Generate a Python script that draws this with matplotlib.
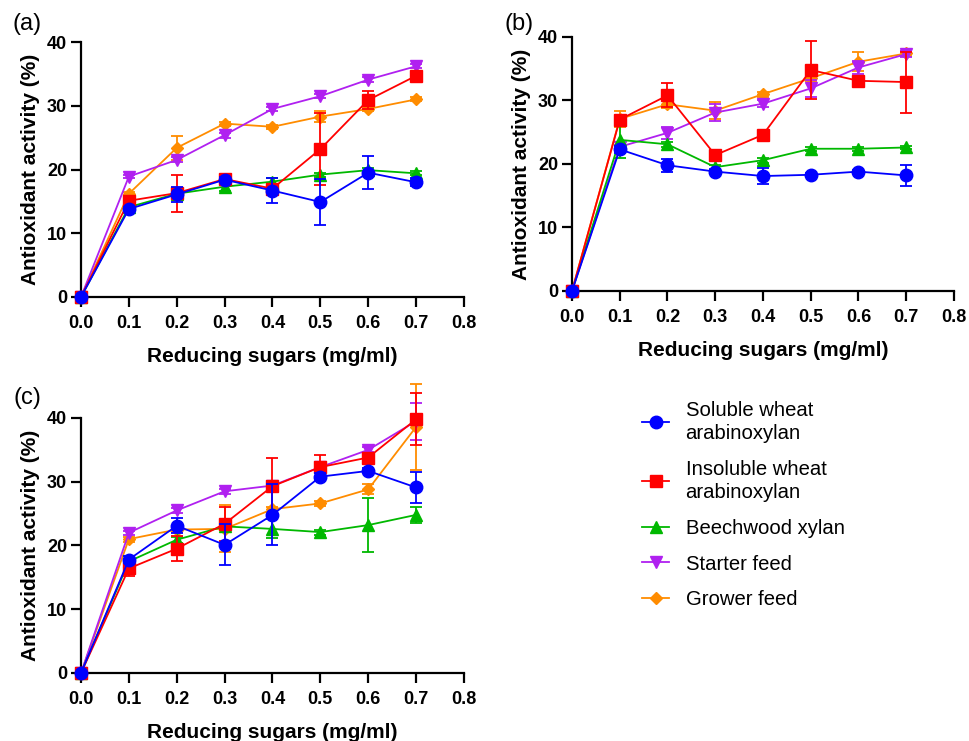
import matplotlib
matplotlib.use('Agg')
import matplotlib.pyplot as plt
from matplotlib.lines import Line2D
import numpy as np

plt.rcParams['font.family'] = ['Liberation Sans', 'DejaVu Sans']

x = [0.0, 0.1, 0.2, 0.3, 0.4, 0.5, 0.6, 0.7]

labels = ['Soluble wheat\narabinoxylan', 'Insoluble wheat\narabinoxylan',
          'Beechwood xylan', 'Starter feed', 'Grower feed']
colors = ['#0000FF', '#FF0000', '#00B800', '#B020F0', '#FF8C00']
markers = ['o', 's', '^', 'v', 'D']
msizes = [9, 9, 8, 8, 6]

# panel (a)
a_mean = [
    [0, 13.8, 16.1, 18.4, 16.7, 14.9, 19.5, 18.0],
    [0, 15.1, 16.3, 18.5, 17.0, 23.2, 30.9, 34.7],
    [0, 14.1, 16.2, 17.3, 18.1, 19.2, 19.9, 19.4],
    [0, 18.9, 21.5, 25.4, 29.5, 31.5, 34.1, 36.2],
    [0, 16.2, 23.4, 27.2, 26.7, 28.3, 29.5, 31.0],
]
a_err = [
    [0, 0.3, 1.2, 0.4, 1.9, 3.6, 2.6, 0.6],
    [0, 0.5, 2.9, 0.4, 0.8, 5.7, 1.4, 0.4],
    [0, 0.3, 0.4, 0.6, 0.5, 0.3, 0.3, 0.3],
    [0, 0.3, 0.4, 0.4, 0.3, 0.3, 0.4, 0.3],
    [0, 0.3, 1.9, 0.3, 0.3, 0.8, 0.3, 0.3],
]

# panel (b)
b_mean = [
    [0, 22.3, 19.8, 18.8, 18.1, 18.3, 18.8, 18.2],
    [0, 27.0, 30.8, 21.4, 24.6, 34.8, 33.1, 32.9],
    [0, 23.8, 23.1, 19.5, 20.6, 22.4, 22.4, 22.6],
    [0, 22.7, 24.9, 28.1, 29.5, 31.9, 35.2, 37.3],
    [0, 27.1, 29.4, 28.4, 31.0, 33.5, 36.1, 37.4],
]
b_err = [
    [0, 0.5, 1.0, 0.4, 1.2, 0.3, 0.3, 1.6],
    [0, 0.6, 1.9, 0.4, 0.4, 4.5, 0.4, 4.8],
    [0, 2.9, 0.4, 0.4, 0.4, 0.3, 0.3, 0.3],
    [0, 0.3, 1.0, 1.4, 0.5, 1.4, 1.0, 0.5],
    [0, 1.3, 0.6, 1.3, 0.4, 0.5, 1.5, 0.4],
]

# panel (c)
c_mean = [
    [0, 17.8, 23.1, 20.1, 24.8, 30.8, 31.7, 29.1],
    [0, 16.4, 19.5, 23.4, 29.3, 32.3, 33.8, 39.8],
    [0, 17.5, 20.9, 23.0, 22.6, 22.1, 23.2, 24.8],
    [0, 22.0, 25.5, 28.5, 29.4, 32.3, 35.0, 39.5],
    [0, 21.0, 22.5, 22.6, 25.7, 26.6, 28.8, 38.6],
]
c_err = [
    [0, 0.5, 1.2, 3.2, 4.8, 0.5, 0.4, 2.4],
    [0, 1.2, 2.0, 2.7, 4.5, 1.9, 0.6, 4.1],
    [0, 0.8, 0.5, 0.4, 1.5, 0.4, 4.2, 1.3],
    [0, 0.3, 0.4, 0.4, 0.4, 0.4, 0.4, 2.9],
    [0, 0.4, 0.4, 3.7, 0.4, 0.4, 0.8, 6.7],
]

fig = plt.figure(figsize=(9.69, 7.41), dpi=100)

panels = [
    ('(a)', [0.0836, 0.5992, 0.3952, 0.3441], a_mean, a_err, (27 / 969, 1 - 24 / 741)),
    ('(b)', [0.5903, 0.6073, 0.3942, 0.3428], b_mean, b_err, (519 / 969, 1 - 24 / 741)),
    ('(c)', [0.0836, 0.0918, 0.3952, 0.3441], c_mean, c_err, (27 / 969, 1 - 398 / 741)),
]

for tag, rect, means, errs, tpos in panels:
    ax = fig.add_axes(rect)
    for i in reversed(range(5)):
        h = ax.errorbar(x, means[i], yerr=errs[i], color=colors[i], marker=markers[i],
                        markersize=msizes[i], linewidth=1.3, elinewidth=1.3,
                        capsize=4, capthick=1.3, clip_on=False, zorder=3 + (5 - i))
        for art in h.lines[2] + h.lines[1]:
            art.set_clip_on(False)
    ax.set_xlim(0, 0.8)
    ax.set_ylim(0, 40)
    ticks = np.arange(0, 0.81, 0.1)
    ax.set_xticks(ticks)
    ax.set_xticklabels([f'{v:.1f}' for v in ticks])
    ax.set_yticks([0, 10, 20, 30, 40])
    for s in ['top', 'right']:
        ax.spines[s].set_visible(False)
    for s in ['left', 'bottom']:
        ax.spines[s].set_linewidth(1.6)
    ax.tick_params(direction='out', length=7, width=1.6, labelsize=13)
    ax.tick_params(axis='x', pad=6)
    ax.tick_params(axis='y', pad=3)
    for lab in ax.get_xticklabels() + ax.get_yticklabels():
        lab.set_fontweight('bold')
    ax.set_xlabel('Reducing sugars (mg/ml)', fontsize=15, fontweight='bold', labelpad=10.5)
    ax.set_ylabel('Antioxidant activity (%)', fontsize=15, fontweight='bold', labelpad=5)
    fig.text(tpos[0], tpos[1], tag, fontsize=17, ha='center', va='center')

handles = [Line2D([], [], color=colors[i], marker=markers[i], markersize=msizes[i],
                  linewidth=1.3) for i in range(5)]
leg = fig.legend(handles, labels, loc='upper left', bbox_to_anchor=(0.652, 0.473),
                 frameon=False, fontsize=14.6, handlelength=1.35, handletextpad=0.8,
                 labelspacing=0.83, borderpad=0)
for t in leg.get_texts():
    t.set_linespacing(1.28)

fig.savefig('out.png', dpi=100)
